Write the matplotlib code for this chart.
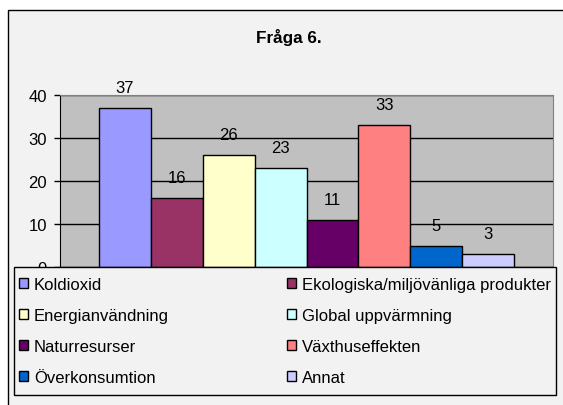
import matplotlib
matplotlib.use("Agg")
import matplotlib.pyplot as plt
from matplotlib.patches import Patch, Rectangle

# data
kategorier = ["Koldioxid", "Ekologiska/miljövänliga produkter", "Energianvändning",
              "Global uppvärmning", "Naturresurser", "Växthuseffekten",
              "Överkonsumtion", "Annat"]
antal = [37, 16, 26, 23, 11, 33, 5, 3]
farger = ["#9999FF", "#993366", "#FFFFCC", "#CCFFFF",
          "#660066", "#FF8080", "#0066CC", "#CCCCFF"]
yticks = [0, 10, 20, 30, 40]

plt.rcParams["font.family"] = ["Liberation Sans", "DejaVu Sans"]
fs = 12

fig = plt.figure(figsize=(5.63, 4.06), dpi=100, facecolor="white")

# yttre ram (diagramyta)
fig.patches.append(Rectangle((8 / 563, -0.05), 1.2, 1.05 - 11 / 406,
                             transform=fig.transFigure, facecolor="#f2f2f2",
                             edgecolor="black", linewidth=1, zorder=-10))

ax = fig.add_axes([60 / 563, 1 - 268 / 406, 493 / 563, 172 / 406])
ax.set_facecolor("#c0c0c0")

n = len(antal)
for i, (v, c, k) in enumerate(zip(antal, farger, kategorier)):
    x = -n / 2 + i + 0.5
    ax.bar(x, v, width=1, color=c, edgecolor="black", linewidth=1, label=k, zorder=3)
    ax.annotate(str(v), (x, v), xytext=(0, 11.5), textcoords="offset points",
                ha="center", va="baseline", fontsize=fs, zorder=4)

ax.set_xlim(-n / 2 - 0.75, n / 2 + 0.75)
ax.set_ylim(0, 40)
ax.set_yticks(yticks)
ax.set_xticks([])
ax.yaxis.grid(True, color="black", linewidth=1, zorder=1)
ax.set_axisbelow(True)
ax.tick_params(axis="y", length=4, width=1, pad=5.5, labelsize=fs, colors="black")
for s in ["top", "right"]:
    ax.spines[s].set_color("#808080")
ax.spines["left"].set_color("black")
ax.spines["bottom"].set_visible(False)

fig.text(289 / 563, 1 - 37 / 406, "Fråga 6.", ha="center", va="center",
         fontsize=12.3, fontweight="bold")

# legendruta
lx, ly, lw, lh = 14 / 563, 1 - 396 / 406, 542 / 563, 128 / 406
fig.patches.append(Rectangle((lx, ly), lw, lh, transform=fig.transFigure,
                             facecolor="#f2f2f2", edgecolor="black",
                             linewidth=1, zorder=4))

# radvis ordning som i Excel: kolumn 1 = 0,2,4,6 ; kolumn 2 = 1,3,5,7
ordning = [0, 2, 4, 6, 1, 3, 5, 7]
handles = [Patch(facecolor=farger[i], edgecolor="black", linewidth=1) for i in ordning]
etiketter = [kategorier[i] for i in ordning]
leg = fig.legend(handles, etiketter, ncol=2, mode="expand", loc="center",
                 bbox_to_anchor=(lx, ly + 0.0, lw, lh),
                 fontsize=fs, frameon=False,
                 handlelength=0.55, handleheight=0.55, handletextpad=0.35,
                 labelspacing=0.97, borderpad=0.3, borderaxespad=0,
                 columnspacing=1.0)
leg.set_zorder(5)

fig.savefig("out.png", dpi=100, facecolor=fig.get_facecolor())
